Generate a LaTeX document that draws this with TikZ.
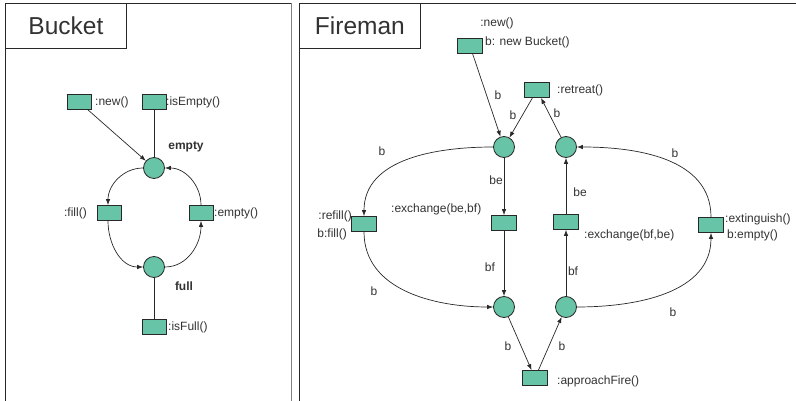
\documentclass[tikz,border=0pt]{standalone}
\usepackage{fontspec}
\setmainfont{Liberation Sans}
\usetikzlibrary{arrows.meta}
\definecolor{token}{RGB}{104,196,166}
\definecolor{ink}{RGB}{40,40,40}
\definecolor{txt}{RGB}{50,50,50}
\tikzset{
  place/.style={circle,draw=ink,fill=token,line width=0.8pt,minimum size=21pt,inner sep=0pt},
  trans/.style={rectangle,draw=ink,fill=token,line width=0.8pt,minimum width=25pt,minimum height=15pt,inner sep=0pt},
  lbl/.style={text=txt,font=\fontsize{12}{14}\selectfont,inner sep=0pt},
  blbl/.style={lbl,font=\fontsize{12}{14}\selectfont\bfseries},
  title/.style={draw=ink,line width=0.8pt,text=txt,font=\fontsize{24.5}{28}\selectfont,minimum width=121pt,minimum height=45pt,inner sep=0pt},
  arc/.style={draw=ink,line width=0.7pt,-{Latex[length=6pt,width=4.5pt]}},
  link/.style={draw=ink,line width=0.7pt},
  frame/.style={draw=ink,line width=0.9pt}
}
\begin{document}
\begin{tikzpicture}[x=1pt,y=-1pt]
\useasboundingbox (0,0) rectangle (796,401);

% ---------- frames ----------
\draw[frame] (5,405) -- (5,3) -- (291,3);
\draw[draw=gray,line width=0.9pt] (291,3) -- (291,405);
\node[title,anchor=north west] (bucketTitle) at (5,3) {Bucket};
\draw[frame] (299,405) -- (299,3) -- (800,3);
\node[title,anchor=north west] (firemanTitle) at (299,3) {Fireman};

% ---------- Bucket net ----------
\node[trans,minimum width=24pt] (bNew) at (79,102) {};
\node[trans,minimum width=24pt] (bIsEmpty) at (154,102) {};
\node[place] (bEmpty) at (154,168) {};
\node[trans,minimum width=24pt] (bFill) at (109,213) {};
\node[trans,minimum width=24pt] (bEmptyT) at (201,213) {};
\node[place] (bFull) at (154,267) {};
\node[trans,minimum width=24pt] (bIsFull) at (154,327) {};

\node[lbl,anchor=west] (lNew) at (95,102) {:new()};
\node[lbl,anchor=west] (lIsEmpty) at (166,102) {:isEmpty()};
\node[blbl] (lEmptyP) at (186,147) {empty};
\node[lbl,anchor=east] (lFill) at (87,213) {:fill()};
\node[lbl,anchor=west] (lEmptyT) at (214,213) {:empty()};
\node[blbl] (lFullP) at (184,286) {full};
\node[lbl,anchor=west] (lIsFull) at (168,327) {:isFull()};

\draw[arc] (bNew) -- (bEmpty);
\draw[link] (bIsEmpty) -- (bEmpty);
\draw[arc] (bEmpty.west) to[out=180,in=90] ([xshift=-1pt]bFill.north);
\draw[arc] ([xshift=-1pt]bFill.south) to[out=270,in=180] (bFull.west);
\draw[arc] (bFull.east) to[out=0,in=270] (bEmptyT.south);
\draw[arc] (bEmptyT.north) to[out=90,in=0] (bEmpty.east);
\draw[link] (bFull) -- (bIsFull);

% ---------- Fireman net ----------
\node[trans] (fNew) at (470,46) {};
\node[trans] (fRetreat) at (537,90) {};
\node[place] (p1) at (504,147) {};
\node[place] (p2) at (566,147) {};
\node[trans] (fRefill) at (364,224) {};
\node[trans] (fExch1) at (504,223) {};
\node[trans] (fExch2) at (566,222) {};
\node[trans] (fExt) at (711,225) {};
\node[place] (p3) at (504,307) {};
\node[place] (p4) at (566,307) {};
\node[trans] (fFire) at (535,378) {};

\node[lbl] (tNew1) at (497,23) {:new()};
\node[lbl,anchor=west] (tNew2) at (485,42) {b: new Bucket()};
\node[lbl,anchor=west] (tRetreat) at (557,90) {:retreat()};
\node[lbl,anchor=east] (tRefill1) at (352,216) {:refill()};
\node[lbl,anchor=east] (tRefill2) at (347,234) {b:fill()};
\node[lbl,anchor=west] (tExch1) at (391,209) {:exchange(be,bf)};
\node[lbl,anchor=west] (tExch2) at (584,235) {:exchange(bf,be)};
\node[lbl,anchor=west] (tExt1) at (725,219) {:extinguish()};
\node[lbl,anchor=west] (tExt2) at (727,235) {b:empty()};
\node[lbl,anchor=west] (tFire) at (557,381) {:approachFire()};

\draw[arc] (fNew) -- (p1);
\draw[arc] (fRetreat) -- (p1);
\draw[arc] (p2) -- (fRetreat);
\draw[arc] (p1.west) to[out=180,in=90] (fRefill.north);
\draw[arc] (fRefill.south) to[out=270,in=180] (p3.west);
\draw[arc] (p1) -- (fExch1);
\draw[arc] (fExch1) -- (p3);
\draw[arc] (p3) -- (fFire);
\draw[arc] (fFire) -- (p4);
\draw[arc] (p4) -- (fExch2);
\draw[arc] (fExch2) -- (p2);
\draw[arc] (p4.east) to[out=0,in=270] (fExt.south);
\draw[arc] (fExt.north) to[out=90,in=0] (p2.east);

% arc inscriptions
\node[lbl] (aNew) at (498,95) {b};
\node[lbl] (aRet1) at (513,115) {b};
\node[lbl] (aRet2) at (557,113) {b};
\node[lbl] (aRefillIn) at (382,151) {b};
\node[lbl] (aBe1) at (496,180) {be};
\node[lbl] (aBe2) at (580,192) {be};
\node[lbl] (aExtOut) at (675,153) {b};
\node[lbl] (aBf1) at (490,267) {bf};
\node[lbl] (aBf2) at (573,271) {bf};
\node[lbl] (aRefillOut) at (374,291) {b};
\node[lbl] (aFire1) at (508,346) {b};
\node[lbl] (aFire2) at (562,346) {b};
\node[lbl] (aExtIn) at (673,312) {b};
\end{tikzpicture}
\end{document}
